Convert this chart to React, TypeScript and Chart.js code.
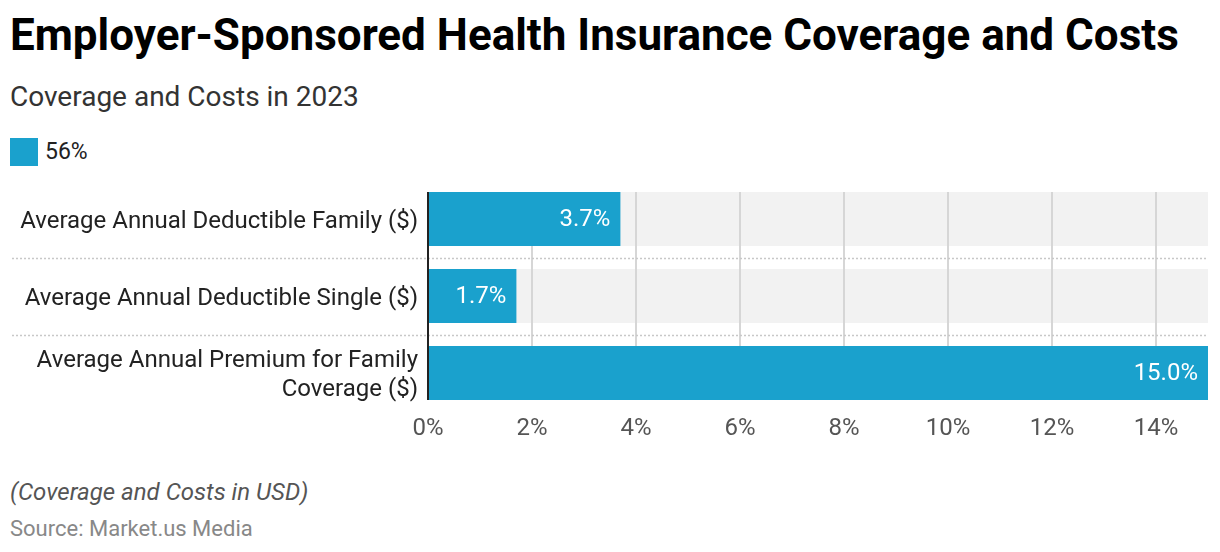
import React, { useEffect, useRef } from "react";
import { Chart, registerables } from "chart.js";

Chart.register(...registerables);

const categories: (string | string[])[] = [
  "Average Annual Deductible Family ($)",
  "Average Annual Deductible Single ($)",
  ["Average Annual Premium for Family", "Coverage ($)"],
];
const seriesName = "56%";
const seriesValues = [3.7, 1.7, 15.0];
const xTickValues = [0, 2, 4, 6, 8, 10, 12, 14];
const xMax = 15;

const BAR = "#1aa1cd";
const FONT = "Roboto";

const bgPlugin = {
  id: "bgTracks",
  beforeDatasetsDraw(chart: any) {
    const els = chart.getDatasetMeta(0).data as any[];
    if (!els.length) return;
    const { ctx, chartArea } = chart;
    const { left, right } = chartArea;
    ctx.save();
    ctx.fillStyle = "#f2f2f2";
    els.forEach((b) => ctx.fillRect(left, b.y - b.height / 2, right - left, b.height));
    const top = els[0].y - els[0].height / 2;
    const last = els[els.length - 1];
    const bottom = last.y + last.height / 2;
    const xs = chart.scales.x;
    ctx.strokeStyle = "#d6d6d6";
    ctx.lineWidth = 2;
    xs.ticks.forEach((t: any) => {
      if (t.value === 0) return;
      const x = Math.round(xs.getPixelForValue(t.value));
      ctx.beginPath();
      ctx.moveTo(x, top);
      ctx.lineTo(x, bottom);
      ctx.stroke();
    });
    ctx.setLineDash([2, 2]);
    ctx.strokeStyle = "#c8c8c8";
    ctx.lineWidth = 1.5;
    for (let i = 0; i < els.length - 1; i++) {
      const y = Math.round((els[i].y + els[i + 1].y) / 2) + 0.5;
      ctx.beginPath();
      ctx.moveTo(12, y);
      ctx.lineTo(right, y);
      ctx.stroke();
    }
    ctx.restore();
  },
  afterDatasetsDraw(chart: any) {
    const els = chart.getDatasetMeta(0).data as any[];
    if (!els.length) return;
    const { ctx, chartArea } = chart;
    const top = els[0].y - els[0].height / 2;
    const last = els[els.length - 1];
    const bottom = last.y + last.height / 2;
    ctx.save();
    ctx.strokeStyle = "#222222";
    ctx.lineWidth = 2;
    ctx.beginPath();
    ctx.moveTo(chartArea.left, top);
    ctx.lineTo(chartArea.left, bottom);
    ctx.stroke();
    ctx.fillStyle = "#ffffff";
    ctx.font = `24px ${FONT}`;
    ctx.textAlign = "right";
    ctx.textBaseline = "middle";
    const vals = chart.data.datasets[0].data as number[];
    els.forEach((b, i) => {
      ctx.fillText(vals[i].toFixed(1) + "%", b.x - 10, b.y + 1);
    });
    ctx.restore();
  },
};

export default function App() {
  const ref = useRef<HTMLCanvasElement>(null);
  useEffect(() => {
    if (!ref.current) return;
    const chart = new Chart(ref.current, {
      type: "bar",
      data: {
        labels: categories as any,
        datasets: [
          {
            label: seriesName,
            data: seriesValues,
            backgroundColor: BAR,
            borderWidth: 0,
            barPercentage: 0.7,
            categoryPercentage: 1,
          },
        ],
      },
      options: {
        indexAxis: "y",
        animation: false,
        responsive: false,
        maintainAspectRatio: false,
        layout: { padding: { top: 20.5, right: 12, bottom: 0, left: 0 } },
        plugins: { legend: { display: false }, tooltip: { enabled: false } },
        scales: {
          x: {
            type: "linear",
            min: 0,
            max: xMax,
            afterBuildTicks: (s: any) => {
              s.ticks = xTickValues.map((v) => ({ value: v }));
            },
            afterFit: (s: any) => {
              s.height = 48.5;
              s.paddingLeft = 0;
              s.paddingRight = 0;
            },
            grid: { display: false, drawTicks: false },
            border: { display: false },
            ticks: {
              padding: 3,
              color: "#555555",
              font: { family: FONT, size: 24 },
              callback: (v: any) => `${v}%`,
            },
          },
          y: {
            afterFit: (s: any) => {
              s.width = 428;
              s.paddingTop = 0;
              s.paddingBottom = 0;
            },
            afterUpdate: (s: any) => {
              if (s.__patched) return;
              s.__patched = true;
              const orig = s._computeLabelItems;
              s._computeLabelItems = function (ca: any) {
                const items = orig.call(this, ca);
                items.forEach((it: any) => {
                  if (it.options && it.options.translation) it.options.translation[1] += 2.5;
                });
                return items;
              };
              s._labelItems = null;
            },
            grid: { display: false, drawTicks: false },
            border: { display: false },
            ticks: {
              autoSkip: false,
              padding: 10,
              color: "#222222",
              font: { family: FONT, size: 24, lineHeight: 1.22 },
            },
          },
        },
      },
      plugins: [bgPlugin],
    });
    return () => chart.destroy();
  }, []);

  return (
    <div
      style={{
        position: "fixed",
        left: 0,
        top: 0,
        width: 1220,
        height: 552,
        background: "#fff",
        fontFamily: FONT,
        overflow: "hidden",
      }}
    >
      <div style={{ position: "absolute", left: 10, top: 13, fontSize: 44, fontWeight: 700, lineHeight: 1, color: "#000", whiteSpace: "nowrap" }}>
        Employer-Sponsored Health Insurance Coverage and Costs
      </div>
      <div style={{ position: "absolute", left: 10, top: 83, fontSize: 28, lineHeight: 1, color: "#333", whiteSpace: "nowrap" }}>
        Coverage and Costs in 2023
      </div>
      <div style={{ position: "absolute", left: 10, top: 138, width: 28, height: 28, background: BAR }} />
      <div style={{ position: "absolute", left: 45, top: 140, fontSize: 23, lineHeight: 1, color: "#222", whiteSpace: "nowrap" }}>
        {seriesName}
      </div>
      <canvas ref={ref} width={1220} height={300} style={{ position: "absolute", left: 0, top: 160, width: 1220, height: 300 }} />
      <div style={{ position: "absolute", left: 10, top: 480, fontSize: 24, fontStyle: "italic", lineHeight: 1, color: "#555", whiteSpace: "nowrap" }}>
        (Coverage and Costs in USD)
      </div>
      <div style={{ position: "absolute", left: 10, top: 518, fontSize: 22, lineHeight: 1, color: "#888", whiteSpace: "nowrap" }}>
        Source: Market.us Media
      </div>
    </div>
  );
}
